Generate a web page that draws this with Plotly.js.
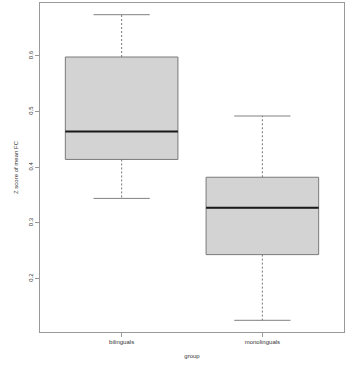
<!DOCTYPE html>
<html>
<head>
<meta charset="utf-8">
<script src="https://cdn.plot.ly/plotly-3.0.1.min.js"></script>
<style>html,body{margin:0;padding:0;background:#fff;}#chart{width:359px;height:367px;}</style>
</head>
<body>
<div id="chart"></div>
<script>
const groups = ['bilinguals', 'monolinguals'];
const lowerWhisker = [0.344, 0.125];
const q1 = [0.414, 0.243];
const median = [0.464, 0.327];
const q3 = [0.598, 0.382];
const upperWhisker = [0.674, 0.492];
const yTicks = [0.2, 0.3, 0.4, 0.5, 0.6];

const pos = groups.map((g, i) => i + 1);
const halfBox = 0.4, halfCap = 0.2;

const boxTrace = {
  type: 'box', x: pos, q1: q1, median: median, q3: q3,
  lowerfence: q1, upperfence: q3,
  width: 0.8, whiskerwidth: 0,
  fillcolor: '#d3d3d3', line: {color: '#7a7a7a', width: 1},
  hoverinfo: 'skip', showlegend: false
};

const traces = [boxTrace];
const cx = [], cy = [], mx = [], my = [];
pos.forEach((p, i) => {
  traces.push({type: 'scatter', mode: 'lines', x: [p, p], y: [q3[i], upperWhisker[i]],
    line: {color: '#777', width: 1, dash: '2px,2px'}, hoverinfo: 'skip', showlegend: false});
  traces.push({type: 'scatter', mode: 'lines', x: [p, p], y: [q1[i], lowerWhisker[i]],
    line: {color: '#777', width: 1, dash: '2px,2px'}, hoverinfo: 'skip', showlegend: false});
  cx.push(p - halfCap, p + halfCap, null, p - halfCap, p + halfCap, null);
  cy.push(upperWhisker[i], upperWhisker[i], null, lowerWhisker[i], lowerWhisker[i], null);
  mx.push(p - halfBox, p + halfBox, null);
  my.push(median[i], median[i], null);
});

traces.push({type: 'scatter', mode: 'lines', x: cx, y: cy, line: {color: '#808080', width: 1}, hoverinfo: 'skip', showlegend: false});
traces.push({type: 'scatter', mode: 'lines', x: mx, y: my, line: {color: '#1a1a1a', width: 2}, hoverinfo: 'skip', showlegend: false});

const font = {family: 'Liberation Sans, Arial, sans-serif', size: 6, color: '#333'};
const layout = {
  width: 359, height: 367,
  margin: {l: 40, r: 15, t: 3, b: 35},
  paper_bgcolor: '#fff', plot_bgcolor: '#fff',
  font: font,
  showlegend: false,
  xaxis: {
    range: [0.42, 2.58], tickvals: pos, ticktext: groups,
    ticks: 'outside', ticklen: 4, tickcolor: '#999',
    showline: true, mirror: true, linecolor: '#999', linewidth: 1,
    showgrid: false, zeroline: false,
    title: {text: 'group', font: font, standoff: 9}
  },
  yaxis: {
    range: [0.104, 0.695], tickvals: yTicks,
    ticks: 'outside', ticklen: 4, tickcolor: '#999', tickangle: -90,
    showline: true, mirror: true, linecolor: '#999', linewidth: 1,
    showgrid: false, zeroline: false,
    title: {text: 'Z score of mean FC', font: font, standoff: 8}
  }
};

Plotly.newPlot('chart', traces, layout, {staticPlot: true, displayModeBar: false});
</script>
</body>
</html>
